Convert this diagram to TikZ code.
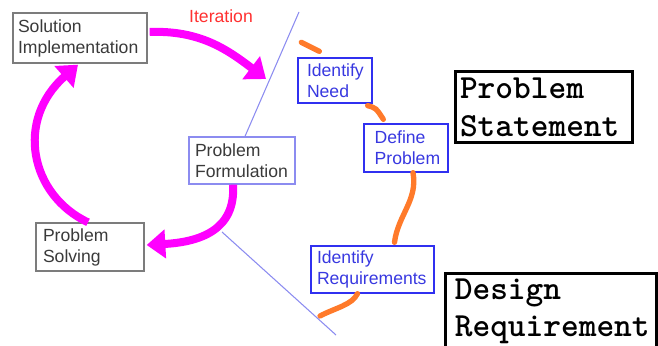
\documentclass[tikz,border=0pt]{standalone}
\usepackage{fontspec}
\setmainfont{Liberation Sans}
\usetikzlibrary{arrows.meta,calc}

\definecolor{boxgray}{HTML}{7C7C7C}
\definecolor{textgray}{HTML}{3A3A3A}
\definecolor{stepblue}{HTML}{3030F0}
\definecolor{steptext}{HTML}{3838E0}
\definecolor{divblue}{HTML}{8C8CF0}
\definecolor{loopmagenta}{HTML}{FF00FF}
\definecolor{needorange}{HTML}{FF7A2A}
\definecolor{iterred}{HTML}{FF3030}

\tikzset{
  sansfont/.style={font=\fontsize{13.2}{15.75}\selectfont},
  graybox/.style={draw=boxgray, line width=1pt, text=textgray, align=left, inner ysep=2pt, sansfont},
  formbox/.style={graybox, draw=divblue},
  bluebox/.style={draw=stepblue, line width=1pt, text=steptext, align=left, inner ysep=2pt, sansfont},
  statebox/.style={draw=black, line width=2.25pt, align=left, inner ysep=2pt,
    font=\fontsize{25.3}{28}\selectfont\ttfamily\bfseries},
  iterarrow/.style={draw=loopmagenta, line width=6pt, -{Triangle[length=14pt,width=21pt]}},
  divider/.style={draw=divblue, line width=0.8pt},
  needpath/.style={draw=needorange, line width=4pt, line cap=round}
}

\begin{document}
\begin{tikzpicture}[x=0.75pt,y=-0.75pt]
\path[use as bounding box] (0,0) rectangle (658,346);
\clip (0,0) rectangle (658,346);

% dividing lines
\coordinate (divtop) at (299,12);
\coordinate (divlow) at (222,232);
\coordinate (divend) at (336,335);

% left loop
\node[graybox, text width=93pt, minimum height=37.5pt, inner xsep=3.75pt] (solimp) at (80,38) {Solution\\Implementation};
\node[graybox, text width=70.5pt, minimum height=36pt, inner xsep=5.25pt] (probsolv) at (90,247) {Problem\\Solving};
\node[formbox, text width=70.5pt, minimum height=35.25pt, inner xsep=4.5pt] (probform) at (242,160.5) {Problem\\Formulation};
\node[sansfont, text=iterred] (iterlbl) at (221,16) {Iteration};

\draw[divider] (divtop) -- ($(probform.north)+(3,0)$);
\draw[divider] (divlow) -- (divend);

\coordinate (iterend) at (266,79);
\draw[iterarrow] ($(solimp.east)+(2,-6)$) .. controls (200,30) and (228,50) .. (iterend);
\draw[iterarrow] ($(probsolv.north)+(-2,0)$) .. controls (30,195) and (15,120) .. ($(solimp.south)+(-2,1)$);
\draw[iterarrow] ($(probform.south)+(-9,0)$) .. controls (236,230) and (200,242) .. ($(probsolv.east)+(2,-2)$);

% right steps
\node[bluebox, text width=42pt, minimum height=33.75pt, inner xsep=6.75pt] (idneed) at (335,80.5) {Identify\\Need};
\node[bluebox, text width=47pt, minimum height=36pt, inner xsep=8pt] (defprob) at (406,148) {Define\\Problem};
\node[bluebox, text width=83.25pt, minimum height=35.25pt, inner xsep=4.5pt] (idreq) at (372.5,269.5) {Identify\\Requirements};

\coordinate (orangeend) at (320,316);
\draw[needpath] ($(idneed.north west)+(4,-15)$) -- ($(idneed.north west)+(22,-6)$);
\draw[needpath] ($(idneed.south east)+(-5,2)$) .. controls (376,108) .. ($(defprob.north west)+(20,-4)$);
\draw[needpath] ($(defprob.south)+(7,0)$) .. controls (418,200) and (398,215) .. ($(idreq.north)+(22,-3)$);
\draw[needpath] ($(idreq.south)+(-15,0)$) .. controls (352,305) and (335,308) .. (orangeend);

% statements
\node[statebox, text width=125.25pt, minimum height=53.25pt, inner xsep=3.75pt] (probstat) at (543.5,107.5) {Problem\\Statement};
\node[statebox, anchor=north west, text width=144pt, minimum height=57pt, inner xsep=7pt] (desreq) at (444,272) {Design\\Requirement};
\end{tikzpicture}
\end{document}
